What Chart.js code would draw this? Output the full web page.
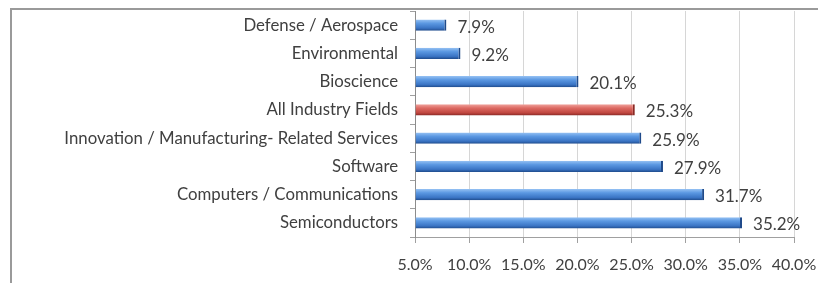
<!DOCTYPE html>
<html>
<head>
<meta charset="utf-8">
<script src="https://cdn.jsdelivr.net/npm/chart.js@4"></script>
<style>
  html, body { margin: 0; padding: 0; background: #fff; }
  #wrap { width: 818px; height: 283px; }
</style>
</head>
<body>
<div id="wrap"><canvas id="chart" width="818" height="283"></canvas></div>
<script>
const categories = [
    "Defense / Aerospace",
    "Environmental",
    "Bioscience",
    "All Industry Fields",
    "Innovation / Manufacturing- Related Services",
    "Software",
    "Computers / Communications",
    "Semiconductors"
];
const shares = [7.9, 9.2, 20.1, 25.3, 25.9, 27.9, 31.7, 35.2];
const highlight = "All Industry Fields";
const tickValues = [5, 10, 15, 20, 25, 30, 35, 40];

// vertical gradient so bars look like the old 3D office style
function barFill(ctx) {
    const chart = ctx.chart;
    const red = categories[ctx.dataIndex] === highlight;
    const plain = red ? "#d0524c" : "#4a86d6";
    if (!chart.chartArea || !chart.scales.y) return plain;
    const y = chart.scales.y.getPixelForValue(ctx.dataIndex);
    const g = chart.ctx.createLinearGradient(0, y - 6, 0, y + 6);
    if (red) {
        g.addColorStop(0, "#f2aaa4");
        g.addColorStop(0.35, "#dd6a63");
        g.addColorStop(0.75, "#c0463f");
        g.addColorStop(1, "#7e2420");
    } else {
        g.addColorStop(0, "#9cc6f5");
        g.addColorStop(0.35, "#5b98e2");
        g.addColorStop(0.75, "#3a74c4");
        g.addColorStop(1, "#1b4583");
    }
    return g;
}

const frame = {
    id: "frame",
    beforeDraw(chart) {
        const c = chart.ctx;
        c.save();
        c.strokeStyle = "#9a9a9a";
        c.lineWidth = 2;
        c.strokeRect(11, 9, 900, 400);
        c.restore();
    }
};

const valueLabels = {
    id: "valueLabels",
    afterDatasetsDraw(chart) {
        const c = chart.ctx;
        const meta = chart.getDatasetMeta(0);
        c.save();
        c.font = "17px Lato";
        c.fillStyle = "#404040";
        c.textBaseline = "middle";
        c.textAlign = "left";
        meta.data.forEach((bar, i) => {
            c.fillText(shares[i].toFixed(1) + "%", bar.x + 11, bar.y + 2);
        });
        c.restore();
    }
};

new Chart(document.getElementById("chart").getContext("2d"), {
    type: "bar",
    data: {
        labels: categories,
        datasets: [{
            data: shares,
            base: 5,
            backgroundColor: barFill,
            borderColor: shares.map((v, i) => categories[i] === highlight ? "#8a2a25" : "#1f4a8a"),
            borderWidth: { right: 2, top: 0, bottom: 0, left: 0 },
            barPercentage: 0.4,
            categoryPercentage: 1
        }]
    },
    options: {
        indexAxis: "y",
        responsive: false,
        animation: false,
        layout: { autoPadding: false, padding: { top: 11, right: 24, bottom: 0, left: 0 } },
        plugins: {
            legend: { display: false },
            tooltip: { enabled: false }
        },
        scales: {
            x: {
                min: 5,
                max: 40,
                afterBuildTicks: (scale) => {
                    scale.ticks = tickValues.map(v => ({ value: v }));
                },
                afterFit: (scale) => {
                    scale.height = 46;
                    scale.paddingLeft = 0;
                    scale.paddingRight = 0;
                },
                ticks: {
                    callback: (v) => Number(v).toFixed(1) + "%",
                    color: "#404040",
                    font: { family: "Lato", size: 16 },
                    padding: 12,
                    maxRotation: 0
                },
                grid: {
                    color: "#d6d6d6",
                    tickColor: "#a0a0a0",
                    tickLength: 6
                },
                border: { color: "#a0a0a0" }
            },
            y: {
                afterFit: (scale) => {
                    scale.width = 415;
                    scale.paddingTop = 0;
                    scale.paddingBottom = 0;
                },
                ticks: {
                    color: "#404040",
                    font: { family: "Lato", size: 16.8 },
                    padding: 12
                },
                grid: {
                    offset: true,
                    drawOnChartArea: false,
                    tickColor: "#a0a0a0",
                    tickLength: 5
                },
                border: { color: "#8c8c8c" }
            }
        }
    },
    plugins: [frame, valueLabels]
});
</script>
</body>
</html>
